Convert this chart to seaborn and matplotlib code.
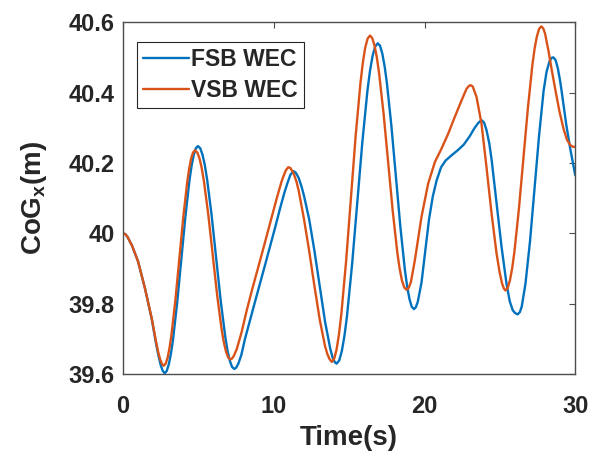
import numpy as np
import pandas as pd
import matplotlib
matplotlib.use("Agg")
import matplotlib.pyplot as plt
import seaborn as sns

# ---------------- data ----------------
t_fsb = [0, 0.15, 0.3, 0.6, 1.0, 1.45, 1.9, 2.2, 2.35, 2.5, 2.63, 2.76,
         2.898, 3.036, 3.174, 3.313, 3.589, 3.865, 4.141, 4.418, 4.556, 4.694, 4.832, 4.97,
         5.121, 5.271, 5.422, 5.573, 5.874, 6.175, 6.476, 6.778, 6.928, 7.079, 7.229, 7.38,
         7.5, 7.65, 7.85, 8.09, 8.75, 9.42, 10.08, 10.4, 10.7, 10.9, 11.1, 11.3,
         11.45, 11.65, 11.85, 12.0, 12.35, 12.7, 13.05, 13.4, 13.75, 13.9, 14.05, 14.17,
         14.341, 14.511, 14.682, 14.853, 15.194, 15.535, 15.876, 16.218, 16.388, 16.559, 16.729, 16.9,
         17.05, 17.2, 17.35, 17.5, 17.8, 18.1, 18.4, 18.7, 18.85, 19.0, 19.15, 19.3,
         19.42, 19.55, 19.8, 20.05, 20.3, 20.55, 20.8, 21.1, 21.4, 21.8, 22.2, 22.6, 23.0, 23.3, 23.55, 23.7, 23.8,
         23.95, 24.11, 24.3, 24.45, 24.78, 25.11, 25.44, 25.65, 25.85, 26.0, 26.18,
         26.32, 26.45, 26.7, 27.0, 27.3, 27.6, 27.9, 28.1, 28.3, 28.45, 28.55,
         28.7, 28.85, 29.0, 29.12, 29.4, 29.67, 30.0]
cog_fsb = [40.000, 39.998, 39.990, 39.965, 39.920, 39.845, 39.758, 39.685, 39.653, 39.626, 39.610, 39.603,
           39.609, 39.628, 39.657, 39.697, 39.802, 39.926, 40.049, 40.154, 40.194, 40.223, 40.242, 40.248,
           40.242, 40.224, 40.195, 40.155, 40.053, 39.932, 39.810, 39.708, 39.668, 39.639, 39.621, 39.615,
           39.618, 39.630, 39.655, 39.700, 39.805, 39.910, 40.015, 40.068, 40.115, 40.142, 40.166, 40.177,
           40.173, 40.158, 40.132, 40.108, 40.040, 39.950, 39.850, 39.750, 39.672, 39.648, 39.634, 39.630,
           39.639, 39.665, 39.707, 39.763, 39.911, 40.085, 40.259, 40.407, 40.463, 40.505, 40.531, 40.540,
           40.533, 40.511, 40.476, 40.429, 40.307, 40.163, 40.018, 39.896, 39.849, 39.814, 39.792, 39.785,
           39.790, 39.805, 39.860, 39.950, 40.040, 40.105, 40.150, 40.188, 40.207, 40.222, 40.236, 40.252, 40.276, 40.298, 40.313, 40.319, 40.321,
           40.315, 40.294, 40.255, 40.210, 40.087, 39.962, 39.857, 39.808, 39.782, 39.774, 39.770,
           39.776, 39.792, 39.858, 39.978, 40.128, 40.278, 40.405, 40.460, 40.490, 40.499, 40.500,
           40.492, 40.468, 40.432, 40.397, 40.310, 40.240, 40.165]

t_vsb = [0, 0.15, 0.3, 0.6, 1.0, 1.45, 1.9, 2.2, 2.35, 2.47, 2.58, 2.7,
         2.83, 2.96, 3.09, 3.22, 3.48, 3.74, 4.0, 4.26, 4.39, 4.52, 4.65, 4.78,
         4.926, 5.073, 5.219, 5.365, 5.658, 5.95, 6.243, 6.535, 6.681, 6.828, 6.974, 7.12,
         7.22, 7.35, 7.55, 7.87, 8.2, 8.53, 9.2, 9.86, 10.2, 10.5, 10.65, 10.8, 10.96,
         11.1, 11.3, 11.5, 11.65, 12.0, 12.35, 12.7, 13.05, 13.4, 13.55, 13.7, 13.85,
         14.008, 14.166, 14.324, 14.483, 14.799, 15.115, 15.431, 15.748, 15.906, 16.064, 16.222, 16.38,
         16.531, 16.683, 16.834, 16.985, 17.288, 17.59, 17.893, 18.195, 18.346, 18.498, 18.649, 18.8,
         18.95, 19.1, 19.36, 19.8, 20.24, 20.69, 21.13, 21.57, 22.01, 22.46, 22.79, 22.95, 23.07,
         23.2, 23.45, 23.78, 24.11, 24.45, 24.78, 24.98, 25.15, 25.27, 25.37,
         25.519, 25.668, 25.816, 25.965, 26.263, 26.56, 26.858, 27.155, 27.304, 27.453, 27.601, 27.75,
         27.88, 28.0, 28.23, 28.45, 28.67, 28.95, 29.23, 29.45, 29.67, 29.85, 30.0]
cog_vsb = [40.000, 39.998, 39.990, 39.965, 39.920, 39.845, 39.760, 39.690, 39.660, 39.641, 39.630, 39.624,
           39.630, 39.647, 39.676, 39.714, 39.813, 39.930, 40.047, 40.146, 40.184, 40.213, 40.230, 40.236,
           40.230, 40.213, 40.186, 40.149, 40.053, 39.939, 39.825, 39.729, 39.692, 39.665, 39.648, 39.642,
           39.644, 39.652, 39.672, 39.720, 39.780, 39.835, 39.940, 40.045, 40.100, 40.145, 40.163, 40.179, 40.188,
           40.186, 40.172, 40.148, 40.122, 40.042, 39.950, 39.850, 39.755, 39.680, 39.658, 39.643, 39.635,
           39.644, 39.670, 39.713, 39.771, 39.921, 40.099, 40.276, 40.426, 40.484, 40.527, 40.553, 40.562,
           40.555, 40.534, 40.501, 40.456, 40.339, 40.201, 40.063, 39.946, 39.901, 39.867, 39.847, 39.840,
           39.845, 39.862, 39.924, 40.047, 40.141, 40.203, 40.241, 40.283, 40.331, 40.378, 40.411, 40.419, 40.421,
           40.417, 40.388, 40.312, 40.189, 40.056, 39.943, 39.890, 39.857, 39.843, 39.838,
           39.845, 39.867, 39.901, 39.948, 40.070, 40.213, 40.356, 40.478, 40.525, 40.559, 40.581, 40.588,
           40.582, 40.567, 40.517, 40.462, 40.410, 40.347, 40.296, 40.266, 40.251, 40.246, 40.246]

series_names = ["FSB WEC", "VSB WEC"]
x_ticks = [0, 10, 20, 30]
y_ticks = [39.6, 39.8, 40.0, 40.2, 40.4, 40.6]
y_tick_labels = ["39.6", "39.8", "40", "40.2", "40.4", "40.6"]

df = pd.concat([
    pd.DataFrame({"Time": t_fsb, "CoG": cog_fsb, "Model": series_names[0]}),
    pd.DataFrame({"Time": t_vsb, "CoG": cog_vsb, "Model": series_names[1]}),
], ignore_index=True)

# ---------------- style ----------------
sns.set_theme(style="white")
plt.rcParams["font.family"] = ["Liberation Sans", "DejaVu Sans"]
plt.rcParams["mathtext.fontset"] = "custom"
plt.rcParams["mathtext.rm"] = "Liberation Sans:bold"
plt.rcParams["mathtext.bf"] = "Liberation Sans:bold"
plt.rcParams["mathtext.it"] = "Liberation Sans:bold"

fig = plt.figure(figsize=(5.9, 4.62), dpi=100)
ax = fig.add_axes([0.2085, 0.19, 0.7665, 0.762])

sns.lineplot(data=df, x="Time", y="CoG", hue="Model", hue_order=series_names,
             palette=["#0072BD", "#D95319"], estimator=None, sort=False,
             linewidth=1.7, ax=ax)
for line in ax.get_lines():
    line.set_solid_joinstyle("round")
    line.set_solid_capstyle("round")

ax.set_xlim(0, 30)
ax.set_ylim(39.6, 40.6)
ax.set_xticks(x_ticks)
ax.set_yticks(y_ticks)
ax.set_yticklabels(y_tick_labels)

for s in ax.spines.values():
    s.set_color("#4d4d4d")
    s.set_linewidth(1.0)
    s.set_visible(True)

ax.tick_params(direction="in", length=4, width=0.8, color="#4d4d4d",
               top=True, right=True, labelsize=17)
ax.tick_params(axis="x", pad=15)
ax.tick_params(axis="y", pad=6)
for lab in ax.get_xticklabels() + ax.get_yticklabels():
    lab.set_fontweight("bold")
    lab.set_color("#262626")

ax.set_xlabel("Time(s)", fontsize=20, fontweight="bold", color="#262626", labelpad=5)
ax.set_ylabel(r"CoG$_{\mathrm{x}}$(m)", fontsize=20, fontweight="bold", color="#262626", labelpad=14)

leg = ax.legend(loc="upper left", bbox_to_anchor=(0.031, 0.943), borderaxespad=0,
                frameon=True, fancybox=False, edgecolor="#262626", framealpha=1,
                handlelength=2.0, handletextpad=0.12, borderpad=0.25, labelspacing=0.35,
                prop={"weight": "bold", "size": 16.5})
leg.get_frame().set_linewidth(0.8)
for line in leg.get_lines():
    line.set_linewidth(1.7)

fig.savefig("out.png", dpi=100, facecolor="white")
